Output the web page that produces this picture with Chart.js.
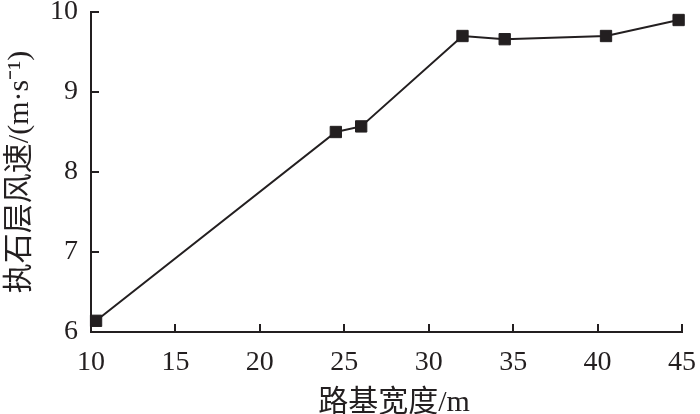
<!DOCTYPE html>
<html>
<head>
<meta charset="utf-8">
<script src="https://cdn.jsdelivr.net/npm/chart.js@4"></script>
<style>
  body { margin: 0; background: #fff; }
  #wrap { width: 700px; height: 414px; }
</style>
</head>
<body>
<div id="wrap"><canvas id="c"></canvas></div>
<script>
// values
const widths = [10.3, 24.5, 26.0, 32.0, 34.5, 40.5, 44.8];
const speeds = [6.14, 8.50, 8.57, 9.70, 9.66, 9.70, 9.90];
const xTicks = [10, 15, 20, 25, 30, 35, 40, 45];
const yTicks = [6, 7, 8, 9, 10];

const ink = "#231f20";
const serif = "'Liberation Serif', 'Noto Sans CJK SC', serif";

new Chart(document.getElementById("c"), {
  type: "line",
  data: {
    datasets: [{
      data: widths.map((w, i) => ({ x: w, y: speeds[i] })),
      borderColor: ink,
      borderWidth: 2,
      pointStyle: "rect",
      pointRadius: 8,
      pointBackgroundColor: ink,
      pointBorderColor: ink,
      pointBorderWidth: 1,
      clip: false,
      tension: 0
    }]
  },
  options: {
    responsive: true,
    maintainAspectRatio: false,
    animation: false,
    layout: { padding: { top: 12, right: 18, left: 0, bottom: 0 } },
    plugins: { legend: { display: false }, tooltip: { enabled: false } },
    scales: {
      x: {
        type: "linear",
        min: 10,
        max: 45,
        afterBuildTicks: s => { s.ticks = xTicks.map(v => ({ value: v })); },
        afterFit: s => { s.height = 82; s.paddingLeft = 0; s.paddingRight = 0; },
        border: { color: ink, width: 2 },
        grid: { drawOnChartArea: false, tickLength: -8, color: ink, lineWidth: 2 },
        ticks: { color: ink, padding: 22, font: { family: serif, size: 28 } },
        title: {
          display: true,
          text: "\u2002路基宽度/m",
          color: ink,
          padding: { top: 0, bottom: -7 },
          font: { family: serif, size: 30 }
        }
      },
      y: {
        min: 6,
        max: 10,
        afterBuildTicks: s => { s.ticks = yTicks.map(v => ({ value: v })); },
        afterFit: s => { s.width = 91; s.paddingTop = 0; s.paddingBottom = 0; },
        border: { color: ink, width: 2 },
        grid: { drawOnChartArea: false, tickLength: -8, color: ink, lineWidth: 2 },
        ticks: { color: ink, padding: 21, font: { family: serif, size: 28 } },
        title: {
          display: true,
          text: "执石层风速/(m·s⁻¹)",
          color: ink,
          padding: { top: 2, bottom: 0 },
          font: { family: serif, size: 30 }
        }
      }
    }
  }
});
</script>
</body>
</html>
